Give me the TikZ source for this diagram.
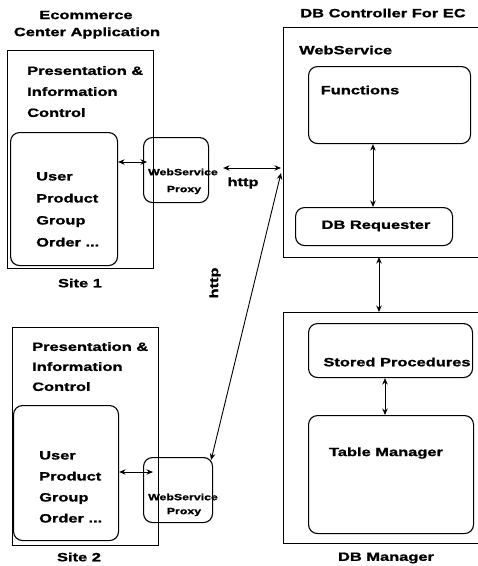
\documentclass[tikz,border=0pt]{standalone}
\usepackage{fontspec}
\newfontfamily\labfont{Liberation Sans}[FakeStretch=1.37,BoldFeatures={FakeBold=1.2}]
\usetikzlibrary{arrows.meta}
\tikzset{
  frame/.style={draw, line width=0.9pt, anchor=north west, inner sep=0pt},
  rbox/.style={frame, rounded corners=9pt, line width=1.1pt},
  lab/.style={font=\labfont\bfseries\fontsize{12}{21}\selectfont, inner sep=0pt, align=left},
  small/.style={font=\labfont\bfseries\fontsize{9}{9}\selectfont, inner sep=0pt},
  dbl/.style={{Stealth[length=6.5pt,width=5.5pt]}-{Stealth[length=6.5pt,width=5.5pt]}, line width=0.9pt},
}
\begin{document}
\begin{tikzpicture}[x=1pt,y=-1pt]
\useasboundingbox (0,0) rectangle (478,566);
% titles
\node[lab, align=center] (t1) at (86,15) {Ecommerce};
\node[lab, align=center] (t2) at (87,33) {Center Application};
\node[lab] (t3) at (383,13) {DB Controller For EC};
% Site 1
\node[frame, minimum width=146pt, minimum height=218pt] (s1) at (7,50) {};
\node[lab, anchor=north west] (s1t) at (27,66) {Presentation \&\\Information\\Control};
\node[rbox, minimum width=107pt, minimum height=133pt] (s1in) at (10,132) {};
\node[lab, anchor=north west, font=\labfont\bfseries\fontsize{12}{22}\selectfont] (s1u) at (36,172) {User\\Product\\Group\\Order ...};
\node[rbox, minimum width=65pt, minimum height=65pt] (p1) at (143,137) {};
\node[small] (p1a) at (183,172) {WebService};
\node[small] (p1b) at (184,190) {Proxy};
\node[lab] (site1) at (80,283) {Site 1};
% Site 2
\node[frame, minimum width=146pt, minimum height=218pt] (s2) at (12,327) {};
\node[lab, anchor=north west, font=\labfont\bfseries\fontsize{12}{20}\selectfont] (s2t) at (32,342) {Presentation \&\\Information\\Control};
\node[rbox, minimum width=105pt, minimum height=135pt] (s2in) at (13,405) {};
\node[lab, anchor=north west, font=\labfont\bfseries\fontsize{12}{21}\selectfont] (s2u) at (39,451) {User\\Product\\Group\\Order ...};
\node[rbox, minimum width=69pt, minimum height=65pt] (p2) at (143,457) {};
\node[small] (p2a) at (183,497) {WebService};
\node[small] (p2b) at (184,512) {Proxy};
\node[lab] (site2) at (79,557) {Site 2};
% DB Controller
\node[frame, minimum width=200pt, minimum height=230pt] (ctrl) at (283,27) {};
\node[lab, anchor=west] (ws) at (299,50) {WebService};
\node[rbox, minimum width=162pt, minimum height=77pt] (fn) at (308,66) {};
\node[lab] (fnt) at (360,90) {Functions};
\node[rbox, minimum width=157pt, minimum height=38pt] (req) at (295,207) {};
\node[lab] (reqt) at (376,226) {DB Requester};
% DB Manager
\node[frame, minimum width=200pt, minimum height=231pt] (mgr) at (283,312) {};
\node[rbox, minimum width=164pt, minimum height=54pt] (sp) at (308,323) {};
\node[lab] (spt) at (397,362) {Stored Procedures};
\node[rbox, minimum width=165pt, minimum height=118pt] (tm) at (308,415) {};
\node[lab] (tmt) at (386,453) {Table Manager};
\node[lab] (mgrt) at (386,558) {DB Manager};
% connectors
\coordinate (hub1) at (281,168);
\coordinate (hub2) at (281,173);
\draw[dbl] (s1in.east |- 0,162) -- ([xshift=4pt]p1.west |- 0,162);
\draw[dbl] (s2in.east |- 0,472) -- ([xshift=10pt]p2.west |- 0,472);
\draw[dbl] ([xshift=14pt]p1.east |- hub1) -- (hub1);
\node[lab] (http1) at (243,183) {http};
\draw[dbl] ([xshift=-2pt,yshift=-3pt]p2.north east) -- (hub2);
\node[lab, rotate=90] (http2) at (215,283) {http};
\draw[dbl] (fn.south -| 373,0) -- (req.north -| 373,0);
\draw[dbl] (379,257) -- (379,312);
\draw[dbl] (sp.south -| 385,0) -- (tm.north -| 385,0);
\end{tikzpicture}
\end{document}
